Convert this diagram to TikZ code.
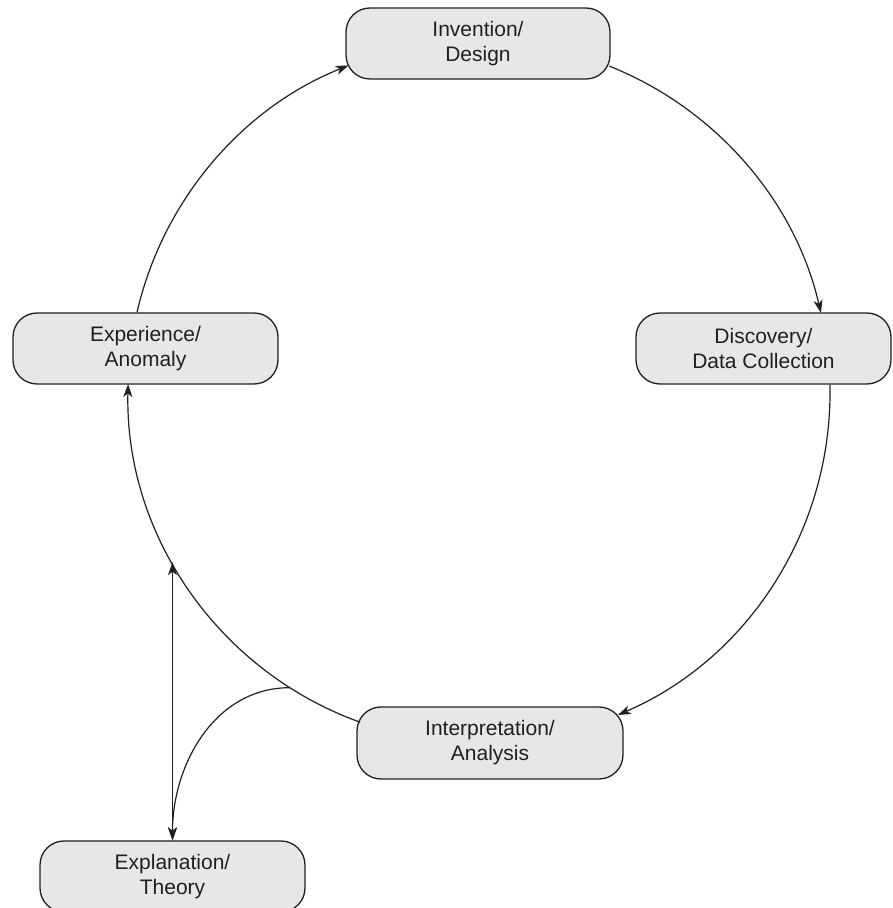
\documentclass[tikz,border=0pt]{standalone}
\usepackage{fontspec}
\setmainfont{Liberation Sans}
\usetikzlibrary{arrows.meta}
\definecolor{boxfill}{HTML}{E6E7E8}
\definecolor{ink}{HTML}{231F20}
\begin{document}
\begin{tikzpicture}[x=1pt,y=1pt,
  box/.style={draw=ink, line width=1.3pt, fill=boxfill, rounded corners=24pt,
    minimum width=264pt, minimum height=71pt, align=center,
    font=\fontsize{21}{25}\selectfont, text=ink, inner sep=0pt},
  link/.style={draw=ink, line width=1.2pt},
  tip/.style={-{Stealth[length=13pt,width=9pt,inset=3.5pt]}},
  tips/.style={{Stealth[length=13pt,width=9pt,inset=3.5pt]}-{Stealth[length=13pt,width=9pt,inset=3.5pt]}}]
\useasboundingbox (0,0) rectangle (892,908);
\coordinate (c) at (479,516);
\node[box] (inv) at (478,864.5) {Invention/\\Design};
\node[box, minimum width=255pt] (dis) at (763.5,559.5) {Discovery/\\Data Collection};
\node[box, minimum width=265pt] (exp) at (145.5,559.5) {Experience/\\Anomaly};
\node[box, minimum width=266pt, minimum height=72pt] (int) at (490,165) {Interpretation/\\Analysis};
\node[box, minimum width=265pt] (ex) at (172.5,31.5) {Explanation/\\Theory};
% circle arcs
\draw[link,tip] ([xshift=-8.5pt]exp.north) arc[start angle=167, end angle=111.8, radius=351];
\draw[link,tip] ([shift={(131.3,-22.6)}]inv.center) arc[start angle=68.2, end angle=13.0, radius=351];
\draw[link,tip] ([xshift=66.4pt]dis.south) arc[start angle=1.3, end angle=-66.7, radius=351];
\draw[link,tip] ([shift={(-129.9,20.8)}]int.center) arc[start angle=250.2, end angle=178.7, radius=351];
% attachment points on the circle
\path (c) ++(209:351) coordinate (t1);
\path (c) ++(237.4:351) coordinate (t2);
\draw[link,tips] (ex.north) -- (ex.north |- t1);
\draw[link,tip] (t2) to[out=180,in=90] (ex.north);
\end{tikzpicture}
\end{document}
